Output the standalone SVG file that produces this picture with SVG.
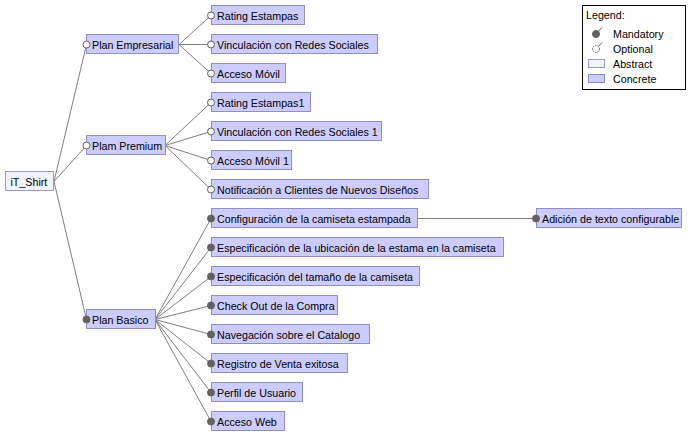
<svg xmlns="http://www.w3.org/2000/svg" width="692" height="437" viewBox="0 0 692 437">
<style>
text{font-family:"Liberation Sans",Arial,sans-serif;font-size:10.7px;fill:#000}
.c{fill:#ccccff;stroke:#8f8fc2;stroke-width:1}
.a{fill:#f2f2ff;stroke:#9a9ac6;stroke-width:1}
.e{stroke:#808080;stroke-width:1;fill:none}
.m{fill:#626262;stroke:#626262;stroke-width:1}
.o{fill:#fff;stroke:#626262;stroke-width:1}
</style>
<rect width="692" height="437" fill="#fff"/>
<g id="connectors">
<path class="e" d="M54,181.5L86.5,44.5M54,181.5L86.5,145.5M54,181.5L86.5,319.5"/>
<path class="e" d="M179,44.5L211,15.5M179,44.5L211,73.5"/>
<path class="e" d="M179,44.5L211,44.5" stroke="#555"/>
<path class="e" d="M165,145.5L211,102.5M165,145.5L211,131.5M165,145.5L211,160.5M165,145.5L211,189.5"/>
<path class="e" d="M155,319.5L211,218.5M155,319.5L211,247.5M155,319.5L211,276.5M155,319.5L211,305.5M155,319.5L211,334.5M155,319.5L211,363.5M155,319.5L211,392.5M155,319.5L211,421.5"/>
<path class="e" d="M418,218.5L536,218.5" stroke="#555"/>
</g>
<g id="iT_Shirt"><rect class="a" x="5.5" y="171.5" width="48" height="19"/><text x="10.5" y="186">iT_Shirt</text></g>
<g id="Plan_Empresarial"><rect class="c" x="86.5" y="34.5" width="92" height="19"/><circle class="o" cx="86.5" cy="44.5" r="3.5"/><text x="92" y="49">Plan Empresarial</text></g>
<g id="Plam_Premium"><rect class="c" x="86.5" y="135.5" width="79" height="19"/><circle class="o" cx="86.5" cy="145.5" r="3.5"/><text x="92" y="150">Plam Premium</text></g>
<g id="Plan_Basico"><rect class="c" x="86.5" y="309.5" width="69" height="19"/><circle class="m" cx="86.5" cy="319.5" r="3.5"/><text x="92" y="324">Plan Basico</text></g>
<g id="Rating_Estampas"><rect class="c" x="211.5" y="5.5" width="93" height="19"/><circle class="o" cx="211" cy="15.5" r="3.5"/><text x="217" y="20">Rating Estampas</text></g>
<g id="Vinculacion"><rect class="c" x="211.5" y="34.5" width="166" height="19"/><circle class="o" cx="211" cy="44.5" r="3.5"/><text x="217" y="49">Vinculación con Redes Sociales</text></g>
<g id="Acceso_Movil"><rect class="c" x="211.5" y="63.5" width="74" height="19"/><circle class="o" cx="211" cy="73.5" r="3.5"/><text x="217" y="78">Acceso Móvil</text></g>
<g id="Rating_Estampas1"><rect class="c" x="211.5" y="92.5" width="99" height="19"/><circle class="o" cx="211" cy="102.5" r="3.5"/><text x="217" y="107">Rating Estampas1</text></g>
<g id="Vinculacion1"><rect class="c" x="211.5" y="121.5" width="170" height="19"/><circle class="o" cx="211" cy="131.5" r="3.5"/><text x="217" y="136">Vinculación con Redes Sociales 1</text></g>
<g id="Acceso_Movil1"><rect class="c" x="211.5" y="150.5" width="80" height="19"/><circle class="o" cx="211" cy="160.5" r="3.5"/><text x="217" y="165">Acceso Móvil 1</text></g>
<g id="Notificacion"><rect class="c" x="211.5" y="179.5" width="217" height="19"/><circle class="o" cx="211" cy="189.5" r="3.5"/><text x="217" y="194">Notificación a Clientes de Nuevos Diseños</text></g>
<g id="Configuracion"><rect class="c" x="211.5" y="208.5" width="206" height="19"/><circle class="m" cx="211" cy="218.5" r="3.5"/><text x="217" y="223">Configuración de la camiseta estampada</text></g>
<g id="Especificacion_ubicacion"><rect class="c" x="211.5" y="237.5" width="292" height="19"/><circle class="m" cx="211" cy="247.5" r="3.5"/><text x="217" y="252">Especificación de la ubicación de la estama en la camiseta</text></g>
<g id="Especificacion_tamano"><rect class="c" x="211.5" y="266.5" width="208" height="19"/><circle class="m" cx="211" cy="276.5" r="3.5"/><text x="217" y="281">Especificación del tamaño de la camiseta</text></g>
<g id="Check_Out"><rect class="c" x="211.5" y="295.5" width="126" height="19"/><circle class="m" cx="211" cy="305.5" r="3.5"/><text x="217" y="310">Check Out de la Compra</text></g>
<g id="Navegacion"><rect class="c" x="211.5" y="324.5" width="158" height="19"/><circle class="m" cx="211" cy="334.5" r="3.5"/><text x="217" y="339">Navegación sobre el Catalogo</text></g>
<g id="Registro"><rect class="c" x="211.5" y="353.5" width="136" height="19"/><circle class="m" cx="211" cy="363.5" r="3.5"/><text x="217" y="368">Registro de Venta exitosa</text></g>
<g id="Perfil"><rect class="c" x="211.5" y="382.5" width="91" height="19"/><circle class="m" cx="211" cy="392.5" r="3.5"/><text x="217" y="397">Perfil de Usuario</text></g>
<g id="Acceso_Web"><rect class="c" x="211.5" y="411.5" width="73" height="19"/><circle class="m" cx="211" cy="421.5" r="3.5"/><text x="217" y="426">Acceso Web</text></g>
<g id="Adicion"><rect class="c" x="536.5" y="208.5" width="145" height="19"/><circle class="m" cx="536" cy="218.5" r="3.5"/><text x="542" y="223">Adición de texto configurable</text></g>
<g id="legend">
<rect x="582.5" y="5.5" width="103" height="84" fill="#fff" stroke="#000"/>
<text x="586" y="19">Legend:</text>
<line x1="596" y1="34" x2="602" y2="27.5" stroke="#5f5f5f"/>
<circle class="m" cx="596" cy="34" r="3.5"/>
<text x="613" y="38">Mandatory</text>
<line x1="596" y1="49" x2="602" y2="42.5" stroke="#5f5f5f"/>
<circle cx="596" cy="49" r="3.5" fill="#fff" stroke="#5f5f5f" stroke-dasharray="1.5 1"/>
<text x="613" y="53">Optional</text>
<rect class="a" x="588.5" y="59.5" width="16" height="8"/>
<text x="613" y="68">Abstract</text>
<rect class="c" x="588.5" y="74.5" width="16" height="8"/>
<text x="613" y="83">Concrete</text>
</g>
</svg>
